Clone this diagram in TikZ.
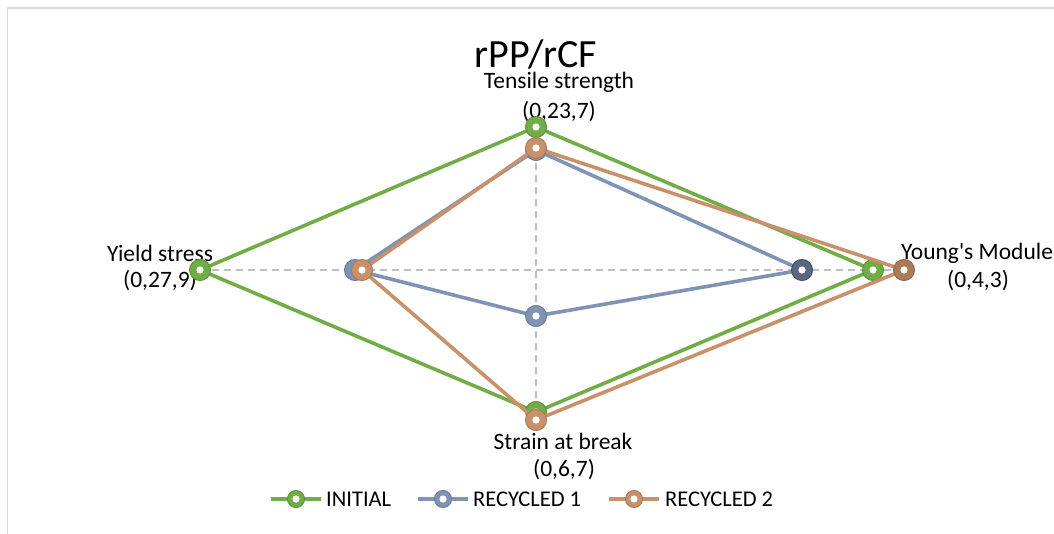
\documentclass[tikz,border=0pt]{standalone}
\usepackage{fontspec}
\setmainfont{Carlito}[Ligatures=TeXOff]
\definecolor{cgreen}{HTML}{70AD47}
\definecolor{cblue}{HTML}{7F93B5}
\definecolor{cbrown}{HTML}{C8916A}
\definecolor{cgrid}{HTML}{BFBFBF}
\definecolor{cframe}{HTML}{D9D9D9}
\begin{document}
\begin{tikzpicture}[x=1pt,y=-1pt,
  series/.style={draw=#1, line width=3.6pt, line join=round},
  mk/.style={circle, fill=#1, draw=#1!85!black, line width=1pt, inner sep=0pt, minimum size=21pt,
    path picture={\fill[white] (path picture bounding box.center) circle (3.6pt);}},
  lmk/.style={mk=#1, minimum size=17pt},
  lbl/.style={font=\fontsize{23.5}{26}\selectfont, inner sep=0pt},
  leg/.style={font=\fontsize{22.5}{26}\selectfont, inner sep=0pt},
  gridline/.style={draw=cgrid, line width=1.3pt, dash pattern=on 7pt off 5pt}]
\useasboundingbox (0,0) rectangle (1054,534);
\begin{scope}
\clip (0,0) rectangle (1054,534);
% frame
\draw[cframe, line width=1.5pt] (1054,8) -- (7.5,8) -- (7.5,534);
% axes
\coordinate (cL) at (200,270);
\coordinate (cR) at (904,270);
\coordinate (cT) at (536,127);
\coordinate (cB) at (536,420);
\draw[gridline] (cL) -- (cR);
\draw[gridline] (cT) -- (cB);
% title
\node[font=\fontsize{40}{46}\selectfont, inner sep=0pt] (title) at (536,54) {rPP/rCF};
% labels
\node[lbl] (tsA) at (559,82) {Tensile strength};
\node[lbl] (tsB) at (559,112) {(0,23,7)};
\node[lbl] (ysA) at (160,253) {Yield stress};
\node[lbl] (ysB) at (160,281) {(0,27,9)};
\node[lbl, anchor=west] (ymA) at (901,253) {Young's Module};
\node[lbl] (ymB) at (978,281) {(0,4,3)};
\node[lbl] (sbA) at (563,441) {Strain at break};
\node[lbl] (sbB) at (564,470) {(0,6,7)};
% data points
\coordinate (gT) at (536,127); \coordinate (gY) at (873,270); \coordinate (gS) at (536,412); \coordinate (gYi) at (200,270);
\coordinate (bT) at (536,150); \coordinate (bY) at (802,270); \coordinate (bS) at (536,316); \coordinate (bYi) at (355,270);
\coordinate (rT) at (536,148); \coordinate (rY) at (904,270); \coordinate (rS) at (536,420); \coordinate (rYi) at (362,270);
% INITIAL
\draw[series=cgreen] (gT) -- (gY) -- (gS) -- (gYi) -- cycle;
\foreach \p in {gT,gY,gS,gYi} \node[mk=cgreen] (m\p) at (\p) {};
% RECYCLED 1
\draw[series=cblue] (bT) -- (bY) -- (bS) -- (bYi) -- cycle;
\node[mk=cblue] (mbT) at (bT) {};
\node[mk=cblue!70!black, draw=cblue!55!black] (mbY) at (bY) {};
\node[mk=cblue] (mbS) at (bS) {};
\node[mk=cblue] (mbYi) at (bYi) {};
% RECYCLED 2
\draw[series=cbrown] (rT) -- (rY) -- (rS) -- (rYi) -- cycle;
\node[mk=cbrown] (mrT) at (rT) {};
\node[mk=cbrown!85!black] (mrY) at (rY) {};
\node[mk=cbrown] (mrS) at (rS) {};
\node[mk=cbrown] (mrYi) at (rYi) {};
% legend
\coordinate (l1a) at (271,499); \coordinate (l1b) at (321,499);
\draw[series=cgreen] (l1a) -- (l1b);
\node[lmk=cgreen] (lm1) at (296,499) {};
\node[leg, anchor=west] (lt1) at (326,499) {INITIAL};
\coordinate (l2a) at (418,499); \coordinate (l2b) at (468,499);
\draw[series=cblue] (l2a) -- (l2b);
\node[lmk=cblue] (lm2) at (443,499) {};
\node[leg, anchor=west] (lt2) at (473,499) {RECYCLED 1};
\coordinate (l3a) at (609,499); \coordinate (l3b) at (659,499);
\draw[series=cbrown] (l3a) -- (l3b);
\node[lmk=cbrown] (lm3) at (634,499) {};
\node[leg, anchor=west] (lt3) at (665,499) {RECYCLED 2};
\end{scope}
\end{tikzpicture}
\end{document}
